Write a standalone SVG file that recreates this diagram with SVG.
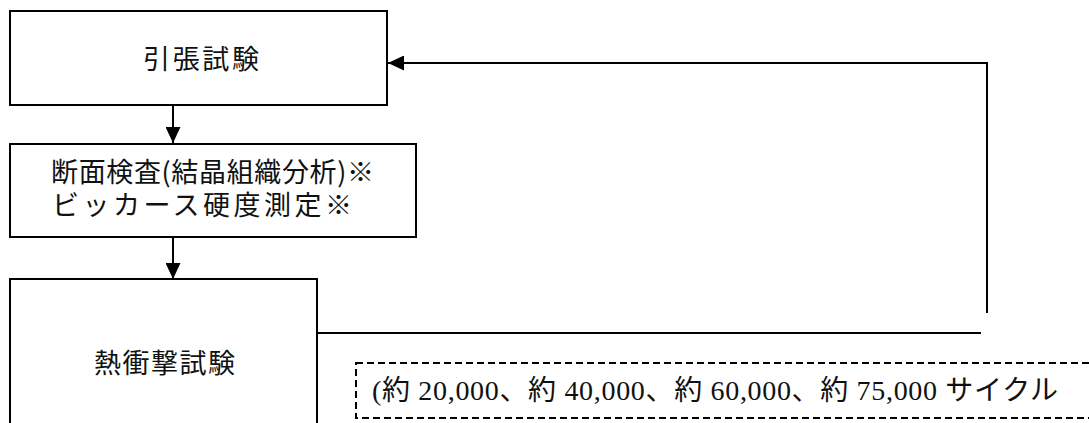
<svg xmlns="http://www.w3.org/2000/svg" width="1089" height="423" viewBox="0 0 1089 423">
  <style>
    .box { fill: #fff; stroke: #000; stroke-width: 2; }
    .dash { fill: none; stroke: #000; stroke-width: 2; stroke-dasharray: 7 4; }
    .conn { fill: none; stroke: #000; stroke-width: 2; }
    .lbl { font-family: "Noto Sans CJK JP", sans-serif; font-size: 27px; fill: #111; }
    .note { font-family: "Liberation Serif", "Noto Sans CJK JP", serif; font-size: 28px; fill: #111; }
  </style>
  <defs>
    <marker id="arr" markerUnits="userSpaceOnUse" markerWidth="16" markerHeight="15" refX="16" refY="7.5" orient="auto">
      <path d="M0,0 L16,7.5 L0,15 Z" fill="#000"/>
    </marker>
  </defs>
  <rect width="1089" height="423" fill="#fff"/>
  <g id="node-tensile">
    <rect class="box" x="10" y="11" width="377" height="94"/>
    <text class="lbl" x="143" y="69" textLength="116" lengthAdjust="spacing">引張試験</text>
  </g>
  <g id="node-section">
    <rect class="box" x="10" y="144" width="406" height="93"/>
    <text class="lbl" x="51" y="182" textLength="323" lengthAdjust="spacing">断面検査(結晶組織分析)※</text>
    <text class="lbl" x="52" y="215" textLength="300" lengthAdjust="spacing">ビッカース硬度測定※</text>
  </g>
  <g id="node-thermal">
    <rect class="box" x="10" y="279" width="307" height="160"/>
    <text class="lbl" x="94" y="373" textLength="141" lengthAdjust="spacing">熱衝撃試験</text>
  </g>
  <g id="note-cycles">
    <rect class="dash" x="356" y="363" width="760" height="55"/>
    <text class="note" x="372" y="400" textLength="686" lengthAdjust="spacing">(約 20,000、約 40,000、約 60,000、約 75,000 サイクル</text>
  </g>
  <g id="connectors">
    <line class="conn" x1="173" y1="105" x2="173" y2="143" marker-end="url(#arr)"/>
    <line class="conn" x1="173" y1="237" x2="173" y2="279" marker-end="url(#arr)"/>
    <line class="conn" x1="317" y1="333" x2="981" y2="333"/>
    <polyline class="conn" points="987,313 987,63 388,63" marker-end="url(#arr)"/>
  </g>
</svg>
